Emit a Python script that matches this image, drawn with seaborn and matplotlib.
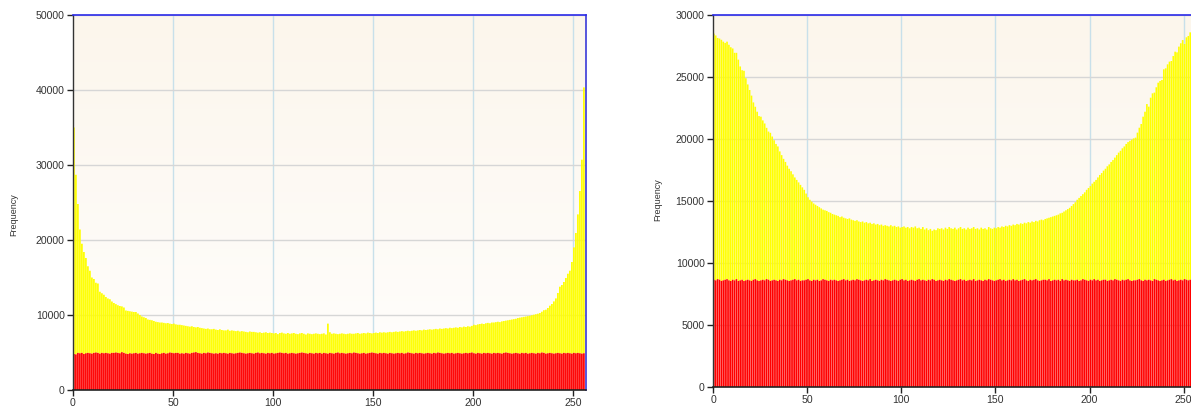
import numpy as np
import pandas as pd
import matplotlib
matplotlib.use("Agg")
import matplotlib.pyplot as plt
import seaborn as sns
from matplotlib.colors import LinearSegmentedColormap

# ---------------- data ----------------
bins = list(range(256))

left_total = [
    35000, 28700, 24800, 21400, 19500, 18400, 17600, 16500, 15900, 15000,
    14800, 14300, 14200, 13100, 12900, 12700, 12400, 12200, 12100, 11800,
    11600, 11450, 11300, 11200, 11150, 11000, 10600, 10550, 10500, 10450,
    10400, 10400, 10200, 10000, 9800, 9700, 9600, 9400, 9350, 9300,
    9200, 9100, 9050, 9000, 9000, 8950, 8900, 8930, 8850, 8800,
    8850, 8750, 8700, 8700, 8650, 8600, 8550, 8500, 8450, 8500,
    8400, 8350, 8400, 8300, 8250, 8200, 8150, 8200, 8100, 8100,
    8150, 8050, 8000, 8100, 8000, 7950, 7950, 8050, 7900, 7950,
    7900, 7850, 7900, 7800, 7850, 7800, 7750, 7700, 7800, 7750,
    7750, 7700, 7650, 7700, 7600, 7650, 7700, 7600, 7650, 7600,
    7550, 7600, 7450, 7600, 7650, 7550, 7500, 7600, 7500, 7550,
    7600, 7500, 7450, 7550, 7600, 7500, 7400, 7550, 7500, 7450,
    7500, 7550, 7500, 7450, 7500, 7550, 7400, 8850, 7700, 7500,
    7550, 7500, 7450, 7500, 7550, 7500, 7450, 7500, 7550, 7500,
    7500, 7550, 7600, 7500, 7550, 7600, 7550, 7650, 7600, 7550,
    7600, 7650, 7600, 7700, 7650, 7700, 7650, 7700, 7750, 7700,
    7750, 7800, 7750, 7800, 7850, 7800, 7850, 7900, 7850, 7900,
    7950, 7900, 7950, 8000, 7950, 8050, 8000, 8050, 8100, 8050,
    8100, 8150, 8100, 8200, 8150, 8200, 8250, 8200, 8300, 8250,
    8300, 8350, 8300, 8400, 8350, 8450, 8400, 8500, 8450, 8550,
    8700, 8650, 8750, 8800, 8850, 8800, 8900, 8950, 8900, 9000,
    9000, 9050, 9100, 9050, 9150, 9200, 9250, 9300, 9350, 9400,
    9450, 9500, 9600, 9650, 9700, 9750, 9800, 9850, 9900,
    9973, 10040, 10107, 10173, 10267, 10440, 10640, 10707, 10933, 11240,
    11467, 11813, 12213, 12933, 13773, 14000, 14400, 14933, 15507, 15907,
    17067, 19013, 20933, 23413, 26533, 30707, 40347,
]

left_red = [
    4800, 4750, 4950, 4900, 4950, 4800, 4900, 4950, 4900, 4850, 4950, 5000, 4950, 4850, 4950, 4900,
    4950, 4900, 4850, 4950, 4950, 5000, 4950, 4900, 5050, 4950, 4850, 4800, 4900, 4850, 4900, 4950,
    4850, 4900, 4950, 4900, 4850, 4900, 4950, 4850, 4800, 4950, 4850, 4800, 4900, 4950, 4850, 4900,
    5000, 4950, 4900, 4950, 4950, 4850, 4900, 4850, 4950, 4900, 4850, 4950, 5000, 5050, 4950, 4900,
    4850, 4950, 4900, 5000, 4950, 4900, 4850, 4900, 4850, 4950, 4900, 4950, 4900, 4850, 4950, 4900,
    4850, 4900, 4950, 5000, 4950, 4900, 4850, 4900, 4950, 4900, 4850, 4950, 5000, 4900, 4950, 4900,
    4850, 4950, 4900, 4950, 4850, 4900, 4950, 5000, 4950, 4900, 4950, 4850, 4900, 4950, 4900, 4850,
    4900, 4950, 5000, 4950, 4900, 4850, 4950, 4900, 4850, 4950, 4900, 4950, 4850, 4950, 4900, 4850,
    4950, 4900, 4850, 4950, 5000, 4900, 4950, 4900, 4850, 4900, 4950, 4900, 5000, 4950, 4900, 4850,
    4900, 4950, 4850, 4900, 4950, 5000, 4950, 4900, 4850, 4950, 4900, 4950, 4900, 4850, 4950, 4900,
    4850, 4900, 4950, 4900, 4950, 4850, 4900, 5000, 4950, 4900, 4850, 4950, 4900, 4950, 4900, 4850,
    4900, 4950, 4900, 4850, 4950, 4900, 5000, 4950, 4900, 4850, 4900, 4950, 4900, 4950, 4850, 4900,
    4950, 4900, 4850, 4900, 4950, 4900, 4950, 5000, 4900, 4850, 4950, 4900, 4850, 4950, 4900, 4950,
    4900, 4850, 4950, 4900, 4950, 4900, 4850, 4950, 5000, 4950, 4900, 4850, 4900, 4950, 4900, 4850,
    4950, 4900, 4950, 4850, 4900, 4950, 4900, 4850, 4950, 4900, 5000, 4950, 4850, 4900, 4950, 4900,
    4850, 4900, 4950, 4900, 4850, 4950, 4900, 4950, 4900, 4850, 4950, 4900, 4950, 4900, 4850, 4900,
]

right_total = [
    28500, 28350, 28150, 28100, 28000, 27850, 27750, 27850, 27600, 27400, 27300,
    26950, 26950, 26400, 25850, 25550, 25500, 24900, 24400, 23950, 23500,
    22950, 22600, 22200, 21850, 21800, 21500, 21250, 20900, 20600, 20500, 20200,
    19900, 19600, 19400, 19000, 18700, 18400, 18150, 17850, 17600, 17400,
    17150, 16900, 16700, 16500, 16300, 16100, 15900, 15600, 15300,
    15100, 14950, 14800, 14700, 14600, 14500, 14400, 14300, 14250, 14200,
    14100, 14050, 13950, 13900, 13850, 13800, 13700, 13750, 13650, 13600,
    13550, 13600, 13500, 13450, 13400, 13450, 13350, 13300, 13350, 13250,
    13300, 13200, 13250, 13150, 13200, 13100, 13150, 13050, 13100, 13000,
    13050, 13000, 12950, 13050, 12950, 13000, 12900, 12950, 12850,
    12900, 12950, 12850, 12900, 12800, 12900, 12850, 12950, 12800, 12850,
    12750, 12900, 12700, 12800, 12650, 12750, 12600, 12700, 12650, 12800,
    12750, 12800, 12700, 12850, 12750, 12900, 12800, 12750, 12850, 12700,
    12800, 12900, 12750, 12800, 12700, 12850, 12750, 12800, 12900, 12750,
    12800, 12700, 12850, 12750, 12800, 12700, 12900, 12800, 12750, 12850,
    12800, 12900, 12850, 12950, 12900, 13000, 12950, 13050, 13000, 13100,
    13050, 13150, 13100, 13200, 13150, 13250, 13200, 13300, 13250, 13350,
    13300, 13400, 13350, 13450, 13500, 13450, 13550, 13600, 13650, 13700,
    13750, 13800, 13850, 13900, 14000, 14050, 14150, 14250, 14350, 14450,
    14600, 14750, 14900, 15100, 15250, 15400, 15550, 15700, 15900, 16050,
    16200, 16400, 16550, 16700, 16900, 17100, 17250, 17450, 17600, 17800,
    17950, 18150, 18300, 18500, 18700, 18900, 19050, 19250, 19400, 19600,
    19750, 19850, 19950, 20050,
    20110, 20510, 20910, 21210, 21800, 22200, 22820, 22610, 23330, 23680,
    23740, 24170, 24540, 24680, 24760, 25620, 25700, 26020, 26240, 26290,
    26690, 27040, 26990, 27450, 27720, 27980, 27660, 28200, 28310, 28600,
    28660, 28840,
]

right_red = [
    8650, 8600, 8700, 8650, 8550, 8600, 8650, 8700, 8600, 8550, 8650, 8600, 8700, 8550, 8600, 8650,
    8550, 8600, 8650, 8600, 8550, 8650, 8700, 8600, 8550, 8600, 8650, 8600, 8700, 8650, 8550, 8600,
    8650, 8600, 8550, 8650, 8600, 8700, 8650, 8600, 8550, 8600, 8650, 8700, 8600, 8650, 8550, 8600,
    8600, 8650, 8700, 8600, 8550, 8650, 8600, 8650, 8550, 8600, 8700, 8650, 8600, 8550, 8650, 8600,
    8650, 8600, 8550, 8600, 8650, 8700, 8600, 8650, 8550, 8600, 8650, 8600, 8700, 8650, 8600, 8550,
    8600, 8650, 8600, 8700, 8550, 8600, 8650, 8600, 8550, 8650, 8600, 8700, 8650, 8600, 8550, 8600,
    8650, 8600, 8550, 8650, 8700, 8600, 8650, 8550, 8600, 8650, 8600, 8550, 8650, 8700, 8600, 8650,
    8600, 8550, 8650, 8600, 8700, 8650, 8550, 8600, 8650, 8600, 8550, 8650, 8600, 8700, 8650, 8600,
    8550, 8600, 8650, 8700, 8600, 8650, 8550, 8600, 8650, 8600, 8700, 8550, 8600, 8650, 8600, 8550,
    8650, 8600, 8700, 8650, 8600, 8550, 8600, 8650, 8700, 8600, 8650, 8550, 8600, 8650, 8600, 8700,
    8600, 8650, 8550, 8600, 8650, 8700, 8600, 8550, 8650, 8600, 8650, 8700, 8600, 8550, 8600, 8650,
    8650, 8600, 8700, 8550, 8600, 8650, 8600, 8650, 8550, 8700, 8600, 8650, 8600, 8550, 8650, 8600,
    8600, 8650, 8550, 8600, 8700, 8650, 8600, 8550, 8650, 8600, 8700, 8600, 8650, 8550, 8600, 8650,
    8650, 8550, 8600, 8650, 8600, 8700, 8650, 8600, 8550, 8650, 8600, 8650, 8700, 8600, 8550, 8600,
    8600, 8650, 8700, 8600, 8550, 8650, 8600, 8650, 8600, 8550, 8700, 8650, 8600, 8550, 8600, 8650,
    8550, 8600, 8650, 8700, 8600, 8650, 8550, 8600, 8650, 8600, 8700, 8650, 8600, 8650, 8600, 8700,
]

x_ticks = [0, 50, 100, 150, 200, 250]
left_yticks = [0, 10000, 20000, 30000, 40000, 50000]
right_yticks = [0, 5000, 10000, 15000, 20000, 25000, 30000]
y_label = "Frequency"

# ---------------- plotting ----------------
sns.set_style("white")
plt.rcParams["font.family"] = ["Liberation Sans", "DejaVu Sans"]

W, H = 1191, 412
fig = plt.figure(figsize=(W / 100, H / 100), dpi=100)
fig.patch.set_facecolor("white")

bg_cmap = LinearSegmentedColormap.from_list("bg", ["#fffefd", "#fcf6ec"])


def px_axes(x0, y0, x1, y1):
    return fig.add_axes([x0 / W, 1 - y1 / H, (x1 - x0) / W, (y1 - y0) / H])


def draw(ax, total, red, ymax, yticks, xmax, show_right):
    grad = np.linspace(0, 1, 256).reshape(-1, 1)
    ax.imshow(grad, aspect="auto", cmap=bg_cmap, extent=(0, 1, 0, 1),
              transform=ax.transAxes, zorder=0, origin="lower")
    df = pd.DataFrame({"bin": np.array(bins) + 0.45,
                       "total": total, "red": red})
    df["upper"] = df["total"] - df["red"]
    # red part (bottom of the stack)
    sns.barplot(data=df, x="bin", y="red", native_scale=True, color="#ff0000",
                saturation=1, width=0.86, errorbar=None, linewidth=0,
                snap=False, ax=ax, zorder=3)
    # yellow part stacked on top of red
    sns.barplot(data=df, x="bin", y="upper", native_scale=True, color="#ffff00",
                saturation=1, width=0.86, errorbar=None, linewidth=0,
                bottom=df["red"].to_numpy(), snap=False, ax=ax, zorder=2)
    ax.set_xlim(0, xmax)
    ax.set_ylim(0, ymax)
    ax.set_xticks(x_ticks)
    ax.set_yticks(yticks)
    ax.set_xticklabels([str(t) for t in x_ticks])
    ax.set_yticklabels([str(t) for t in yticks])
    ax.set_xlabel("")
    ax.set_ylabel("")
    for xt in x_ticks[1:]:
        ax.axvline(xt, color="#c8e0ea", lw=1.0, zorder=1)
    for yt in yticks[1:]:
        ax.axhline(yt, color="#d6d6d6", lw=1.0, zorder=1)
    ax.tick_params(axis="both", which="both", direction="out", length=4, width=1,
                   color="#222222", labelsize=7.6, labelcolor="#333333", pad=2,
                   left=True, bottom=True)
    ax.spines["left"].set_color("#333333")
    ax.spines["bottom"].set_color("#222222")
    ax.spines["top"].set_color("#2a2ae8")
    ax.spines["top"].set_linewidth(1.2)
    ax.spines["left"].set_linewidth(1.0)
    ax.spines["bottom"].set_linewidth(1.2)
    ax.spines["right"].set_visible(show_right)
    ax.spines["right"].set_color("#3a3ad8")
    ax.spines["right"].set_linewidth(1.2)
    for s in ax.spines.values():
        s.set_zorder(5)


ax1 = px_axes(73, 15, 586, 390)
draw(ax1, left_total, left_red, 50000, left_yticks, 256.5, True)

ax2 = px_axes(713, 15, 1195, 387)
draw(ax2, right_total, right_red, 30000, right_yticks, 256, False)

fig.text(14 / W, 1 - 215 / H, y_label, rotation=90, ha="center", va="center",
         fontsize=6.5, color="#333333")
fig.text(658 / W, 1 - 200 / H, y_label, rotation=90, ha="center", va="center",
         fontsize=6.5, color="#333333")

fig.savefig("out.png", dpi=100, facecolor="white")
